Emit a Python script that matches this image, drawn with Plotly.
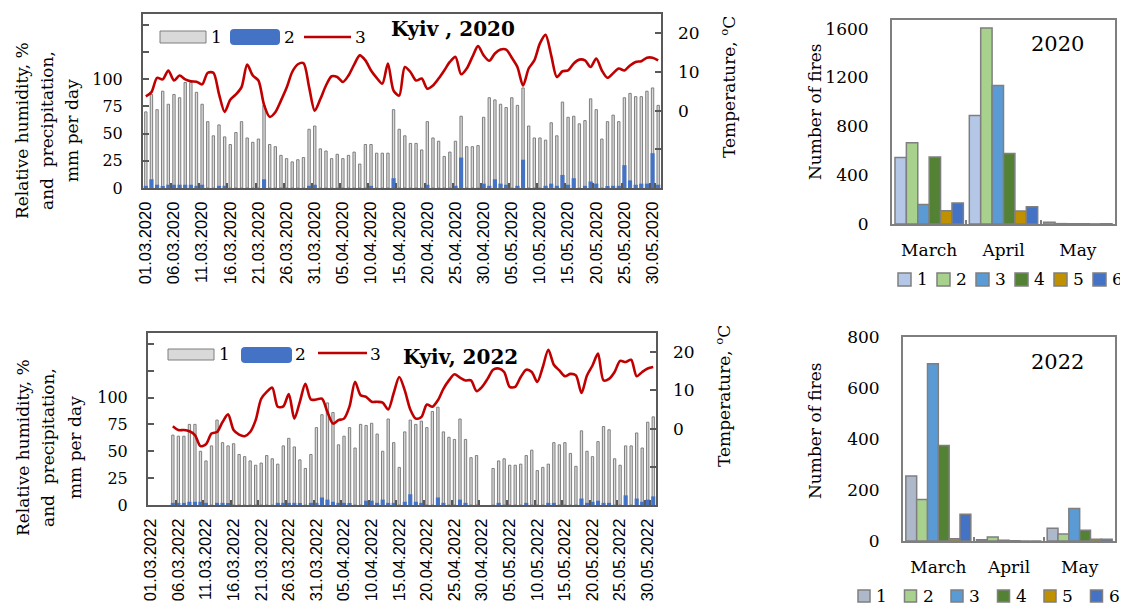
import plotly.graph_objects as go
import pandas as pd

# The page body has an 8px margin; the figure is sized/positioned to fill the window.
OX, OY = 8, 8
W, H = 1120, 597
def X(px): return (px - OX) / W
def Y(py): return 1 - (py - OY) / H

# ---------------- data ----------------
dates20 = [d.strftime('%d.%m.%Y') for d in pd.date_range('2020-03-01', '2020-05-31')]
dates22 = [d.strftime('%d.%m.%Y') for d in pd.date_range('2022-03-01', '2022-05-31')]

hum20 = [70, 86, 72, 89, 77, 86, 83, 97, 97, 88,
         77, 61, 48, 58, 47, 40, 51, 61, 46, 42,
         45, 76, 40, 38, 30, 27, 24, 26, 28, 54,
         57, 36, 34, 27, 31, 27, 30, 33, 22, 40,
         40, 32, 32, 32, 72, 54, 48, 41, 41, 35,
         61, 46, 43, 29, 33, 43, 66, 38, 38, 39,
         65, 83, 81, 77, 74, 83, 76, 92, 57, 46,
         46, 44, 60, 48, 79, 65, 66, 59, 62, 82,
         72, 45, 61, 67, 61, 83, 87, 84, 84, 89,
         92, 76]
prec20 = [2, 8, 3, 1, 3, 3, 3, 3, 3, 2,
          3, 0, 0, 2, 2, 0, 0, 0, 0, 0,
          0, 8, 0, 0, 0, 0, 0, 0, 0, 2,
          3, 0, 0, 0, 0, 0, 0, 0, 0, 0,
          2, 0, 0, 0, 9, 0, 0, 0, 0, 0,
          3, 0, 0, 0, 0, 2, 28, 0, 0, 0,
          4, 2, 8, 4, 3, 0, 2, 26, 0, 0,
          0, 2, 4, 2, 12, 3, 9, 0, 2, 6,
          4, 0, 1, 2, 2, 21, 7, 3, 4, 4,
          32, 3]
temp20 = [3.7, 4.8, 8.5, 8.1, 10.4, 7.8, 9.1, 8.1, 7.6, 7.5,
          6.8, 9.8, 9.8, 4.3, -0.3, 2.8, 4.2, 6.1, 11.9, 9.1,
          7.8, 1.5, -1.6, -0.4, 2.6, 5.9, 10, 12, 12.3, 6.1,
          0, 3, 6.5, 8.9, 8.7, 7.4, 9.1, 11.9, 14.3, 13,
          10.4, 8.5, 7, 12.2, 5.2, 3.9, 11.3, 10, 7.8, 8.3,
          5.7, 6.5, 8.3, 10.4, 12.6, 13.9, 9.4, 10.9, 13.9, 16.7,
          14.3, 12.9, 14.8, 15.8, 15.8, 13.7, 11.3, 6.5, 10.9, 13,
          17.4, 19.6, 14.3, 8.7, 10.2, 10.4, 12.2, 13.2, 13, 11.3,
          13.5, 10.4, 8.5, 9.7, 10.9, 10.4, 11.7, 12.6, 12.8, 13.7,
          13.7, 13]

hum22 = [None, None, None, None, 65, 64, 64, 75, 75, 50,
         41, 55, 79, 58, 55, 57, 47, 45, 41, 37,
         39, 46, 43, 38, 55, 62, 54, 42, 34, 47,
         72, 84, 95, 86, 56, 64, 72, 53, 75, 74,
         76, 66, 50, 80, 58, 35, 68, 79, 75, 78,
         72, 87, 91, 68, 63, 61, 80, 61, 44, 46,
         None, None, 34, 41, 43, 37, 37, 38, 46, 51,
         32, 35, 38, 58, 56, 58, 48, 36, 69, 50,
         45, 59, 73, 70, 43, 37, 55, 55, 67, 53,
         77, 82]
prec22 = [None, None, None, None, 2, 2, 2, 3, 3, 3,
          2, 0, 2, 2, 1, 0, 0, 0, 0, 0,
          0, 0, 0, 2, 2, 2, 2, 1, 0, 2,
          2, 7, 5, 3, 2, 2, 1, 0, 0, 4,
          4, 2, 5, 2, 2, 0, 3, 10, 3, 2,
          0, 0, 7, 2, 0, 0, 5, 2, 0, 0,
          None, None, 0, 2, 0, 0, 0, 0, 2, 0,
          0, 0, 2, 2, 0, 0, 0, 0, 6, 2,
          3, 4, 2, 2, 0, 0, 9, 0, 6, 3,
          5, 8]
temp22 = [None, None, None, None, 0.6, -0.4, -0.4, -0.7, -1.7, -4.6,
          -4.1, -1.3, -0.9, 1.7, 3.7, -0.4, -1.6, -2, -0.9, 2.2,
          7.8, 9.6, 10.7, 5.7, 5.8, 9, 2.6, 7, 11.7, 7.6,
          7.6, 7.8, 4.3, 1.3, 2.2, 2.6, 5.8, 12.2, 8.7, 8.3,
          7, 7, 6.8, 5, 9.3, 13.5, 10, 5, 2.6, 3,
          6.3, 5.7, 7.4, 10.4, 12.6, 14.2, 13.3, 12.6, 12.6, 9.8,
          10.9, 13, 15.4, 15.7, 14.8, 10.9, 10.9, 13.5, 15.4, 14.8,
          12.2, 16.1, 20.6, 16.7, 15.2, 13.7, 14.3, 13.9, 9.3, 13.9,
          16.5, 19.6, 12.6, 13, 14.8, 17.7, 17.4, 18, 13.7, 14.8,
          15.7, 16.1]

months = ['March', 'April', 'May']
fire_series = ['1', '2', '3', '4', '5', '6']
fires20 = {'1': [545, 888, 15], '2': [665, 1605, 3], '3': [160, 1133, 2],
           '4': [548, 578, 2], '5': [109, 106, 1], '6': [172, 142, 2]}
fires22 = {'1': [255, 5, 50], '2': [163, 16, 27], '3': [695, 3, 127],
           '4': [375, 1, 42], '5': [9, 0, 7], '6': [105, 0, 7]}
colors20 = ['#B4C7E7', '#A9D18E', '#5B9BD5', '#548235', '#BF9000', '#4472C4']
colors22 = ['#ADB9CA', '#A9D18E', '#5B9BD5', '#548235', '#BF9000', '#4472C4']

# ---------------- style ----------------
SERIF = 'DejaVu Serif'
SANS = 'Liberation Sans'
FRAME = '#595959'
GRAYFILL = '#D9D9D9'
GRAYLINE = '#7F7F7F'
BLUE = '#4472C4'
RED = '#C00000'

fig = go.Figure()

def add_weather(dates, hum, prec, temp, xa, ya, ya2):
    fig.add_trace(go.Bar(x=dates, y=hum, xaxis=xa, yaxis=ya, width=0.42, offset=-0.21,
                         marker=dict(color=GRAYFILL, line=dict(color=GRAYLINE, width=1)),
                         name='1', showlegend=False))
    fig.add_trace(go.Bar(x=dates, y=prec, xaxis=xa, yaxis=ya, width=0.74, offset=-0.37,
                         marker=dict(color=BLUE, line=dict(width=0), cornerradius=2),
                         name='2', showlegend=False))
    fig.add_trace(go.Scatter(x=dates, y=temp, xaxis=xa, yaxis=ya2, mode='lines',
                             line=dict(color=RED, width=2.6, shape='spline', smoothing=0.8),
                             name='3', showlegend=False, connectgaps=False))

add_weather(dates20, hum20, prec20, temp20, 'x', 'y', 'y2')
add_weather(dates22, hum22, prec22, temp22, 'x2', 'y3', 'y4')

for i, s in enumerate(fire_series):
    fig.add_trace(go.Bar(x=months, y=fires20[s], xaxis='x3', yaxis='y5', name=s,
                         marker=dict(color=colors20[i], line=dict(color=GRAYLINE, width=1.5)),
                         showlegend=False))
for i, s in enumerate(fire_series):
    fig.add_trace(go.Bar(x=months, y=fires22[s], xaxis='x4', yaxis='y6', name=s,
                         marker=dict(color=colors22[i], line=dict(color=GRAYLINE, width=1.5)),
                         showlegend=False))

def date_xaxis(dates, x0, x1, anchor):
    return dict(domain=[X(x0), X(x1)], anchor=anchor, type='category', automargin=False,
                categoryorder='array', categoryarray=dates, range=[-0.5, len(dates) - 0.5],
                tickvals=dates[::5], tickangle=-90, ticks='inside', ticklen=5, tickwidth=2,
                tickcolor=FRAME, tickson='boundaries', ticklabelstandoff=5,
                tickfont=dict(family=SANS, size=16.5, color='black'),
                showgrid=False, showline=True, linecolor=FRAME, linewidth=2, mirror=True)

def hum_yaxis(y0, y1, anchor):
    return dict(domain=[Y(y1), Y(y0)], anchor=anchor, range=[0, 160], automargin=False,
                tickvals=[0, 25, 50, 75, 100],
                minor=dict(tickvals=[125, 150], ticks='inside', ticklen=6, tickwidth=2,
                           tickcolor=FRAME, showgrid=False),
                ticks='inside', ticklen=6, tickwidth=2, tickcolor=FRAME, ticklabelstandoff=15,
                tickfont=dict(family=SERIF, size=16, color='black'),
                showgrid=False, zeroline=False, showline=True, linecolor=FRAME,
                linewidth=2, mirror=True)

def temp_yaxis(over, anchor):
    return dict(overlaying=over, side='right', anchor=anchor, range=[-20, 25], automargin=False,
                tickvals=[0, 10, 20],
                minor=dict(tickvals=[-20, -10], ticks='inside', ticklen=6, tickwidth=2,
                           tickcolor=FRAME, showgrid=False),
                ticks='inside', ticklen=6, tickwidth=2, tickcolor=FRAME, ticklabelstandoff=16,
                tickfont=dict(family=SERIF, size=17, color='black'),
                showgrid=False, zeroline=False, showline=False)

def fire_xaxis(x0, x1, anchor):
    return dict(domain=[X(x0), X(x1)], anchor=anchor, type='category', range=[-0.5, 2.5],
                automargin=False,
                ticks='inside', ticklen=4, tickwidth=1.5, tickcolor=GRAYLINE,
                tickson='boundaries', ticklabelstandoff=10,
                tickfont=dict(family=SERIF, size=17, color='black'),
                showgrid=False, showline=True, linecolor=GRAYLINE, linewidth=2, mirror=True)

def fire_yaxis(y0, y1, anchor, rng, dt):
    return dict(domain=[Y(y1), Y(y0)], anchor=anchor, range=rng, dtick=dt, automargin=False,
                ticks='', ticklabelstandoff=18,
                tickfont=dict(family=SERIF, size=17, color='black'),
                showgrid=False, zeroline=False, showline=True, linecolor=GRAYLINE,
                linewidth=2, mirror=True)

fig.update_layout(
    template='none',
    width=W, height=H, autosize=False,
    margin=dict(l=0, r=0, t=0, b=0, pad=0),
    paper_bgcolor='white', plot_bgcolor='white',
    barmode='group', bargap=0.08, bargroupgap=0,
    xaxis=date_xaxis(dates20, 143, 661, 'y'),
    yaxis=hum_yaxis(14, 188, 'x'),
    yaxis2=temp_yaxis('y', 'x'),
    xaxis2=date_xaxis(dates22, 148, 656, 'y3'),
    yaxis3=hum_yaxis(333, 505, 'x2'),
    yaxis4=temp_yaxis('y3', 'x2'),
    xaxis3=fire_xaxis(892, 1115, 'y5'),
    yaxis5=fire_yaxis(20, 224, 'x3', [0, 1670], 400),
    xaxis4=fire_xaxis(903, 1115, 'y6'),
    yaxis6=fire_yaxis(337, 541, 'x4', [0, 800], 200),
)

ann = []
shapes = []

def text(x, y, s, size=17, angle=0, bold=False, family=SERIF, xanchor='center'):
    ann.append(dict(x=X(x), y=Y(y), xref='paper', yref='paper', text=('<b>%s</b>' % s) if bold else s,
                    showarrow=False, textangle=angle, xanchor=xanchor, yanchor='middle',
                    font=dict(family=family, size=size, color='black')))

# titles
text(453, 29, 'Kyiv , 2020', size=20, bold=True)
text(460, 357, 'Kyiv, 2022', size=20, bold=True)
text(1057, 44, '2020', size=21)
text(1057, 362, '2022', size=21)

# axis titles
for xc, s in [(22, 'Relative humidity, %'), (47, 'and  precipitation,'), (72, 'mm per day')]:
    text(xc, 131, s, angle=-90)
for xc, s in [(23, 'Relative humidity, %'), (48, 'and  precipitation,'), (75, 'mm per day')]:
    text(xc, 448, s, angle=-90)
text(728, 87, 'Temperature, <sup>o</sup>C', angle=-90)
text(723, 396, 'Temperature, <sup>o</sup>C', angle=-90)
text(815, 112, 'Number of fires', angle=-90)
text(815, 431, 'Number of fires', angle=-90)

def rect(x0, y0, x1, y1, fill, line=GRAYLINE, lw=1):
    shapes.append(dict(type='rect', xref='paper', yref='paper', x0=X(x0), x1=X(x1),
                       y0=Y(y1), y1=Y(y0), fillcolor=fill, line=dict(color=line, width=lw)))

def rrect(x0, y0, x1, y1, r, fill):
    p = (f"M {X(x0+r)},{Y(y0)} L {X(x1-r)},{Y(y0)} Q {X(x1)},{Y(y0)} {X(x1)},{Y(y0+r)} "
         f"L {X(x1)},{Y(y1-r)} Q {X(x1)},{Y(y1)} {X(x1-r)},{Y(y1)} L {X(x0+r)},{Y(y1)} "
         f"Q {X(x0)},{Y(y1)} {X(x0)},{Y(y1-r)} L {X(x0)},{Y(y0+r)} Q {X(x0)},{Y(y0)} {X(x0+r)},{Y(y0)} Z")
    shapes.append(dict(type='path', xref='paper', yref='paper', path=p, fillcolor=fill,
                       line=dict(width=0)))

def hline(x0, x1, y, color, lw):
    shapes.append(dict(type='line', xref='paper', yref='paper', x0=X(x0), x1=X(x1),
                       y0=Y(y), y1=Y(y), line=dict(color=color, width=lw)))

# left legends
rect(160, 31, 206, 43, GRAYFILL)
text(216, 37, '1')
rrect(230, 29, 280, 45, 4, BLUE)
text(289, 37, '2')
hline(304, 351, 37, RED, 2.6)
text(360, 37, '3')

rect(168, 349, 214, 360, GRAYFILL)
text(224, 354, '1')
rrect(241, 347, 292, 363, 4, BLUE)
text(300, 354, '2')
hline(318, 367, 353, RED, 2.6)
text(375, 354, '3')

# right legends
for i, s in enumerate(fire_series):
    x0 = 898 + 39 * i
    rect(x0, 273, x0 + 13, 286, colors20[i], lw=1.5)
    text(x0 + 17, 279, s, xanchor='left')
for i, s in enumerate(fire_series):
    x0 = 858 + 46.5 * i
    rect(x0, 590, x0 + 12, 602, colors22[i], lw=1.5)
    text(x0 + 16, 596, s, xanchor='left')

fig.update_layout(annotations=ann, shapes=shapes)
fig.write_html('out.html')
